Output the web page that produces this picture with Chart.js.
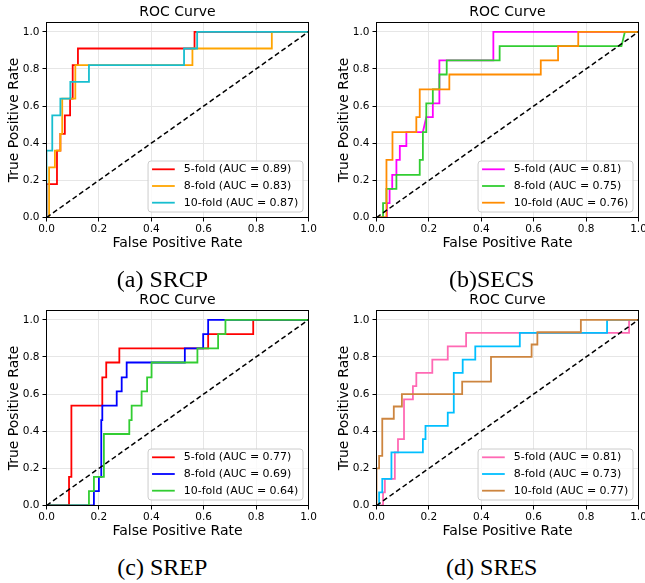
<!DOCTYPE html>
<html>
<head>
<meta charset="utf-8">
<script src="https://cdn.jsdelivr.net/npm/chart.js@4.4.1/dist/chart.umd.min.js"></script>
<style>
  body { margin: 0; background: #fff; }
  #wrap { position: relative; width: 645px; height: 583px; overflow: hidden; }
  canvas { position: absolute; }
  .cap {
    position: absolute;
    font-family: "Liberation Serif", "Times New Roman", serif;
    font-size: 24px;
    line-height: 1;
    white-space: nowrap;
    transform: translate(-50%, -50%);
    color: #000;
  }
</style>
</head>
<body>
<div id="wrap">
  <canvas id="chartA" width="322" height="256" style="left:0;top:0"></canvas>
  <canvas id="chartB" width="315" height="256" style="left:330px;top:0"></canvas>
  <canvas id="chartC" width="322" height="256" style="left:0;top:288px"></canvas>
  <canvas id="chartD" width="315" height="256" style="left:330px;top:288px"></canvas>
  <div class="cap" style="left:162.5px;top:279px">(a) SRCP</div>
  <div class="cap" style="left:491.7px;top:279px">(b)SECS</div>
  <div class="cap" style="left:162.3px;top:567px">(c) SREP</div>
  <div class="cap" style="left:491.8px;top:567px">(d) SRES</div>
</div>
<script>
// tick labels and legend names
const xTicks = [0, 0.2, 0.4, 0.6, 0.8, 1.0];
const yTicks = [0, 0.2, 0.4, 0.6, 0.8, 1.0];
const folds = ["5-fold", "8-fold", "10-fold"];

// chance line
const chanceX = [0, 1];
const chanceY = [0, 1];

// (a) SRCP
const aucA = [0.89, 0.83, 0.87];
const fprA5 = [0, 0, 0.04, 0.04, 0.053, 0.053, 0.07, 0.07, 0.09, 0.09, 0.1, 0.1, 0.12, 0.12, 0.565, 0.565, 1];
const tprA5 = [0, 0.18, 0.18, 0.36, 0.36, 0.45, 0.45, 0.55, 0.55, 0.64, 0.64, 0.82, 0.82, 0.91, 0.91, 1, 1];
const fprA8 = [0, 0.01, 0.01, 0.032, 0.032, 0.053, 0.053, 0.06, 0.06, 0.11, 0.11, 0.557, 0.557, 0.86, 0.86, 1];
const tprA8 = [0, 0, 0.27, 0.27, 0.36, 0.36, 0.45, 0.45, 0.64, 0.64, 0.82, 0.82, 0.91, 0.91, 1, 1];
const fprA10 = [0, 0, 0.022, 0.022, 0.053, 0.053, 0.091, 0.091, 0.162, 0.162, 0.525, 0.525, 0.575, 0.575, 1];
const tprA10 = [0, 0.36, 0.36, 0.55, 0.55, 0.64, 0.64, 0.73, 0.73, 0.82, 0.82, 0.91, 0.91, 1, 1];

// (b) SECS
const aucB = [0.81, 0.75, 0.76];
const fprB5 = [0, 0.04, 0.04, 0.05, 0.05, 0.06, 0.06, 0.076, 0.076, 0.089, 0.089, 0.114, 0.114, 0.177, 0.19, 0.215, 0.215, 0.24, 0.24, 0.446, 0.446, 1];
const tprB5 = [0, 0, 0.077, 0.077, 0.154, 0.154, 0.23, 0.23, 0.31, 0.31, 0.385, 0.385, 0.46, 0.46, 0.54, 0.54, 0.615, 0.615, 0.846, 0.846, 1, 1];
const fprB8 = [0, 0.025, 0.025, 0.038, 0.038, 0.076, 0.076, 0.165, 0.165, 0.177, 0.177, 0.19, 0.19, 0.215, 0.215, 0.24, 0.24, 0.268, 0.268, 0.47, 0.47, 0.935, 0.948, 1];
const tprB8 = [0, 0, 0.077, 0.077, 0.154, 0.154, 0.23, 0.23, 0.31, 0.31, 0.46, 0.46, 0.615, 0.615, 0.69, 0.69, 0.77, 0.77, 0.846, 0.846, 0.923, 0.923, 1, 1];
const fprB10 = [0, 0.038, 0.038, 0.061, 0.061, 0.152, 0.152, 0.165, 0.165, 0.278, 0.278, 0.627, 0.627, 0.693, 0.693, 0.77, 0.77, 1];
const tprB10 = [0, 0, 0.31, 0.31, 0.46, 0.46, 0.54, 0.54, 0.69, 0.69, 0.77, 0.77, 0.846, 0.846, 0.923, 0.923, 1, 1];

// (c) SREP
const aucC = [0.77, 0.69, 0.64];
const fprC5 = [0, 0.086, 0.086, 0.095, 0.095, 0.213, 0.213, 0.228, 0.228, 0.278, 0.278, 0.617, 0.617, 0.789, 0.789, 1];
const tprC5 = [0, 0, 0.154, 0.154, 0.538, 0.538, 0.69, 0.69, 0.77, 0.77, 0.846, 0.846, 0.923, 0.923, 1, 1];
const fprC8 = [0, 0.181, 0.181, 0.2, 0.2, 0.209, 0.209, 0.213, 0.213, 0.268, 0.268, 0.287, 0.287, 0.306, 0.306, 0.528, 0.528, 0.598, 0.598, 0.617, 0.617, 1];
const tprC8 = [0, 0, 0.077, 0.077, 0.154, 0.154, 0.46, 0.46, 0.538, 0.538, 0.615, 0.615, 0.69, 0.69, 0.77, 0.77, 0.846, 0.846, 0.923, 0.923, 1, 1];
const fprC10 = [0, 0.162, 0.162, 0.181, 0.181, 0.219, 0.219, 0.316, 0.316, 0.325, 0.325, 0.363, 0.363, 0.384, 0.384, 0.401, 0.401, 0.576, 0.576, 0.655, 0.655, 0.683, 0.683, 1];
const tprC10 = [0, 0, 0.077, 0.077, 0.154, 0.154, 0.385, 0.385, 0.46, 0.46, 0.538, 0.538, 0.615, 0.615, 0.69, 0.69, 0.77, 0.77, 0.846, 0.846, 0.923, 0.923, 1, 1];

// (d) SRES
const aucD = [0.81, 0.73, 0.77];
const fprD5 = [0, 0.025, 0.025, 0.032, 0.032, 0.07, 0.07, 0.082, 0.082, 0.105, 0.105, 0.139, 0.139, 0.152, 0.152, 0.213, 0.213, 0.272, 0.272, 0.342, 0.342, 0.964, 0.964, 1];
const tprD5 = [0, 0, 0.071, 0.071, 0.143, 0.143, 0.286, 0.286, 0.357, 0.357, 0.571, 0.571, 0.643, 0.643, 0.714, 0.714, 0.786, 0.786, 0.857, 0.857, 0.929, 0.929, 1, 1];
const fprD8 = [0, 0.01, 0.01, 0.022, 0.022, 0.057, 0.057, 0.177, 0.177, 0.187, 0.187, 0.272, 0.272, 0.295, 0.295, 0.329, 0.329, 0.377, 0.377, 0.547, 0.547, 0.88, 0.88, 1];
const tprD8 = [0, 0, 0.071, 0.071, 0.143, 0.143, 0.286, 0.286, 0.357, 0.357, 0.429, 0.429, 0.5, 0.5, 0.714, 0.714, 0.786, 0.786, 0.857, 0.857, 0.929, 0.929, 1, 1];
const fprD10 = [0, 0, 0.01, 0.01, 0.022, 0.022, 0.066, 0.066, 0.097, 0.097, 0.327, 0.327, 0.437, 0.437, 0.592, 0.592, 0.614, 0.614, 0.78, 0.78, 1];
const tprD10 = [0, 0.2, 0.2, 0.267, 0.267, 0.467, 0.467, 0.533, 0.533, 0.6, 0.6, 0.667, 0.667, 0.8, 0.8, 0.867, 0.867, 0.933, 0.933, 1, 1];

const colorsA = ["#ff0000", "#ffa500", "#17becf"];
const colorsB = ["#ff00ff", "#32cd32", "#ff8c00"];
const colorsC = ["#ff0000", "#0000ff", "#32cd32"];
const colorsD = ["#ff69b4", "#00bfff", "#cd853f"];

const FONT = "DejaVu Sans";

// matplotlib-like box around the axes
const framePlugin = {
    id: "frame",
    afterDatasetsDraw(chart) {
        const { ctx, chartArea: a } = chart;
        ctx.save();
        ctx.strokeStyle = "#000";
        ctx.lineWidth = 1;
        ctx.strokeRect(a.left, a.top, a.right - a.left, a.bottom - a.top);
        ctx.restore();
    },
};

// legend in the lower right corner of the axes
const rocLegend = {
    id: "rocLegend",
    afterDraw(chart) {
        const { ctx, chartArea } = chart;
        const items = chart.data.datasets.filter(d => d.label !== "chance");
        ctx.save();
        ctx.font = "11px '" + FONT + "'";
        const textW = Math.max(...items.map(d => ctx.measureText(d.label).width));
        const boxW = 35.7 + textW + 4.6;
        const boxH = 51;
        const left = chartArea.right - 5.5 - boxW;
        const top = chartArea.bottom - 5.5 - boxH;
        ctx.beginPath();
        ctx.roundRect(left, top, boxW, boxH, 3);
        ctx.fillStyle = "rgba(255,255,255,0.8)";
        ctx.fill();
        ctx.strokeStyle = "#cccccc";
        ctx.lineWidth = 1;
        ctx.stroke();
        items.forEach((d, i) => {
            const y = top + 8.3 + i * 16.7;
            ctx.beginPath();
            ctx.moveTo(left + 4, y);
            ctx.lineTo(left + 26.7, y);
            ctx.strokeStyle = d.borderColor;
            ctx.lineWidth = 1.8;
            ctx.stroke();
            ctx.fillStyle = "#000";
            ctx.textBaseline = "middle";
            ctx.fillText(d.label, left + 35.7, y);
        });
        ctx.restore();
    },
};

function rocChart(id, fprs, tprs, aucs, colors, padRight) {
    const datasets = fprs.map((fpr, i) => ({
        label: folds[i] + " (AUC = " + aucs[i].toFixed(2) + ")",
        data: fpr.map((x, j) => ({ x: x, y: tprs[i][j] })),
        borderColor: colors[i],
        borderWidth: 1.8,
        showLine: true,
        pointRadius: 0,
        fill: false,
        order: 3 - i,
    }));
    datasets.push({
        label: "chance",
        data: chanceX.map((x, j) => ({ x: x, y: chanceY[j] })),
        borderColor: "#000",
        borderWidth: 1.5,
        borderDash: [5, 3],
        showLine: true,
        pointRadius: 0,
        order: 0,
    });

    const tickFont = { family: FONT, size: 10.5 };
    const labelFont = { family: FONT, size: 14 };

    return new Chart(document.getElementById(id), {
        type: "scatter",
        data: { datasets: datasets },
        options: {
            responsive: false,
            animation: false,
            layout: { padding: { left: 0, right: padRight, top: 0, bottom: 0 } },
            plugins: {
                legend: { display: false },
                tooltip: { enabled: false },
                title: {
                    display: true,
                    text: "ROC Curve",
                    font: { family: FONT, size: 14, weight: "normal" },
                    color: "#000",
                    padding: { top: 4, bottom: 1.7 },
                    fullSize: false,
                },
            },
            scales: {
                x: {
                    type: "linear",
                    min: 0,
                    max: 1,
                    afterBuildTicks: s => { s.ticks = xTicks.map(v => ({ value: v })); },
                    afterFit: s => { s.height = 38.5; s.paddingLeft = 0; s.paddingRight = 0; },
                    ticks: {
                        callback: v => v.toFixed(1),
                        font: tickFont,
                        color: "#000",
                        padding: 1,
                        maxRotation: 0,
                        autoSkip: false,
                    },
                    grid: { color: "#e6e6e6", tickColor: "#000", tickLength: 4 },
                    border: { display: false },
                    title: {
                        display: true,
                        text: "False Positive Rate",
                        font: labelFont,
                        color: "#000",
                        padding: { top: 0, bottom: 4.6 },
                    },
                },
                y: {
                    type: "linear",
                    min: 0,
                    max: 1.05,
                    afterBuildTicks: s => { s.ticks = yTicks.map(v => ({ value: v })); },
                    afterFit: s => { s.width = 46.5; s.paddingTop = 0; s.paddingBottom = 0; },
                    ticks: {
                        callback: v => v.toFixed(1),
                        font: tickFont,
                        color: "#000",
                        padding: 3,
                        autoSkip: false,
                    },
                    grid: { color: "#e6e6e6", tickColor: "#000", tickLength: 4 },
                    border: { display: false },
                    title: {
                        display: true,
                        text: "True Positive Rate",
                        font: labelFont,
                        color: "#000",
                        padding: { top: 5.6, bottom: 0 },
                    },
                },
            },
        },
        plugins: [framePlugin, rocLegend],
    });
}

rocChart("chartA", [fprA5, fprA8, fprA10], [tprA5, tprA8, tprA10], aucA, colorsA, 13.5);
rocChart("chartB", [fprB5, fprB8, fprB10], [tprB5, tprB8, tprB10], aucB, colorsB, 6.5);
rocChart("chartC", [fprC5, fprC8, fprC10], [tprC5, tprC8, tprC10], aucC, colorsC, 13.5);
rocChart("chartD", [fprD5, fprD8, fprD10], [tprD5, tprD8, tprD10], aucD, colorsD, 6.5);
</script>
</body>
</html>
